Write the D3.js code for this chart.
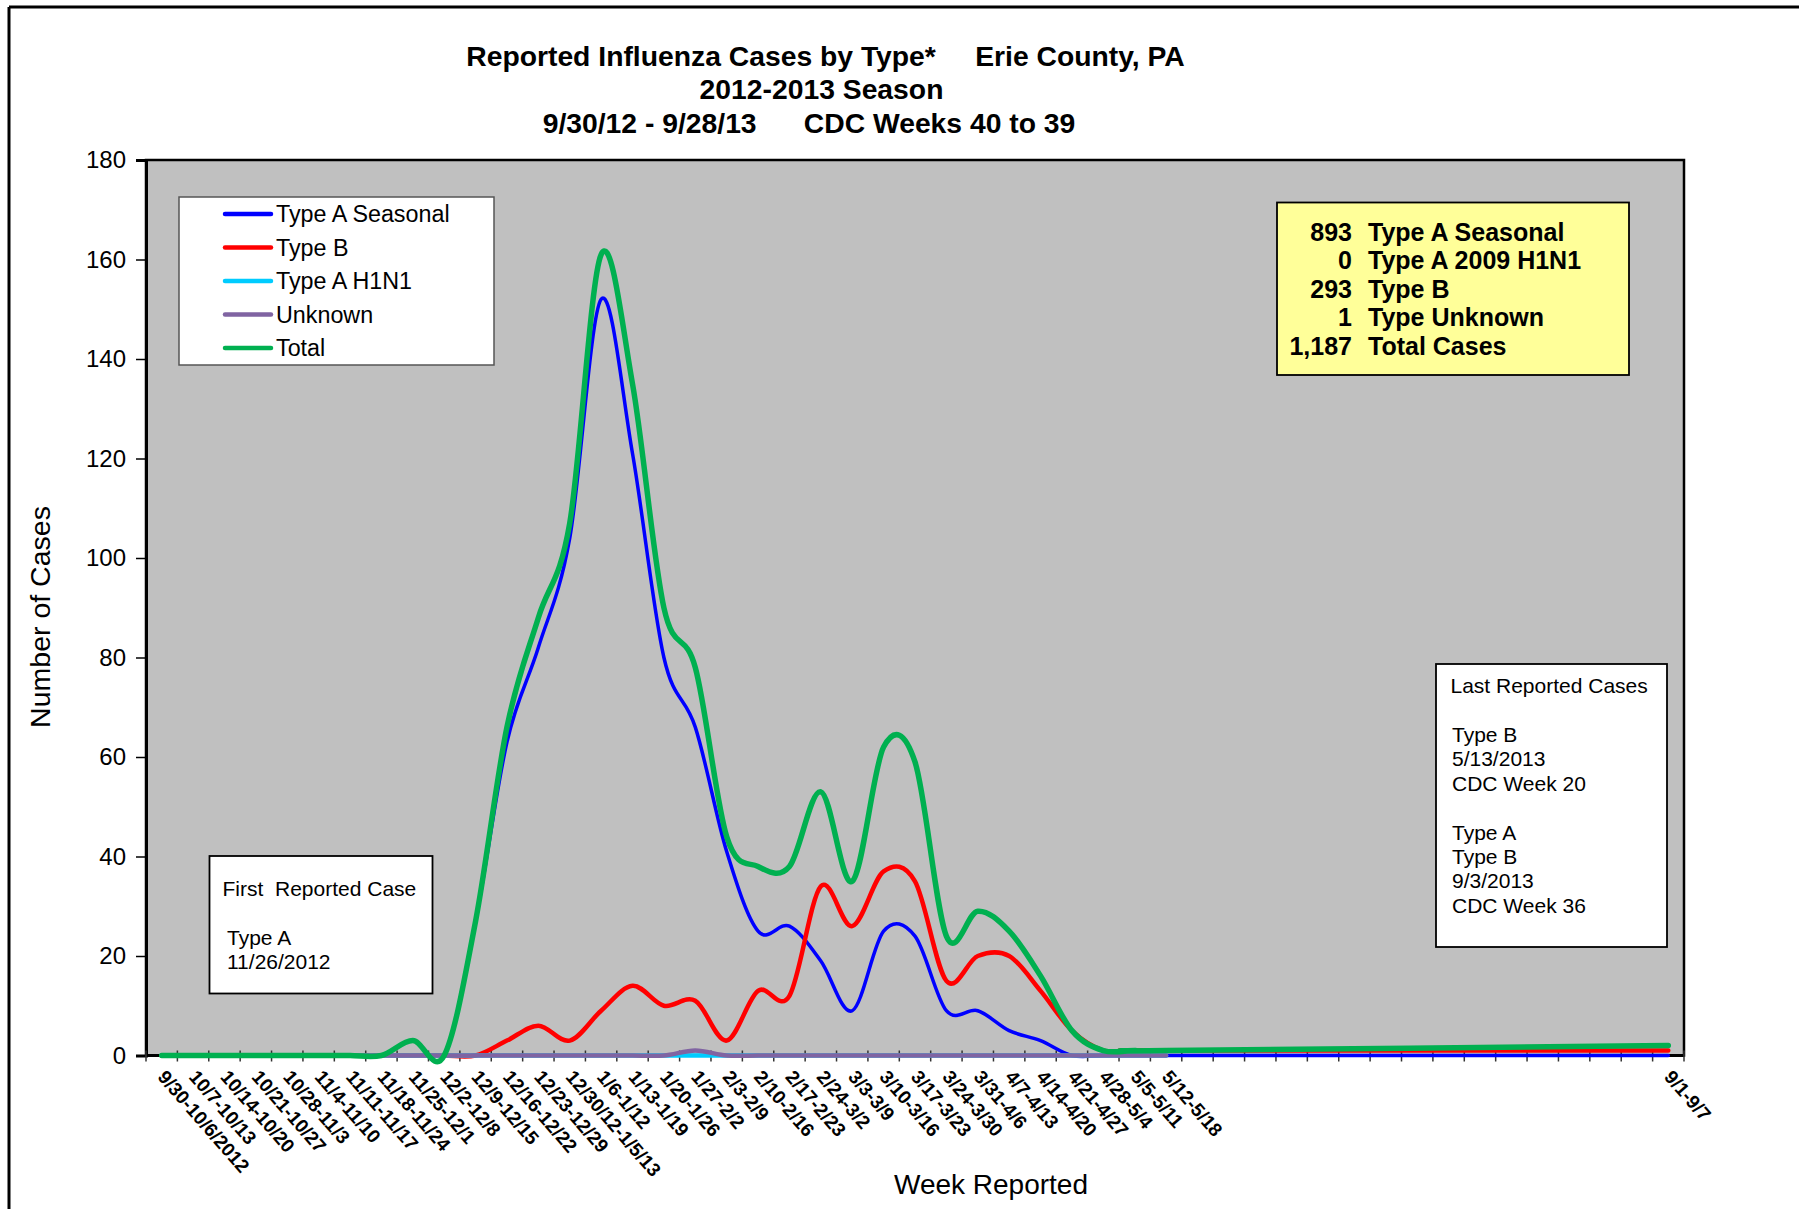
<!DOCTYPE html>
<html>
<head>
<meta charset="utf-8">
<script src="https://cdn.jsdelivr.net/npm/d3@7"></script>
<style>
  html, body { margin: 0; padding: 0; background: #fff; }
  svg { display: block; }
  text { font-family: "Liberation Sans", Arial, sans-serif; }
</style>
</head>
<body>
<svg id="chart" width="1799" height="1209"></svg>
<script>
const N = null;
const weeks = ["9/30-10/6/2012","10/7-10/13","10/14-10/20","10/21-10/27","10/28-11/3","11/4-11/10","11/11-11/17","11/18-11/24","11/25-12/1","12/2-12/8","12/9-12/15","12/16-12/22","12/23-12/29","12/30/12-1/5/13","1/6-1/12","1/13-1/19","1/20-1/26","1/27-2/2","2/3-2/9","2/10-2/16","2/17-2/23","2/24-3/2","3/3-3/9","3/10-3/16","3/17-3/23","3/24-3/30","3/31-4/6","4/7-4/13","4/14-4/20","4/21-4/27","4/28-5/4","5/5-5/11","5/12-5/18","","","","","","","","","","","","","","","","9/1-9/7"];

const typeASeasonal = [0,0,0,0,0,0,0,0,3,0,27,63,82,104,152,121,80,66,41,25,26,19,9,25,24,9,9,5,3,0,0,0,0, N,N,N,N,N,N,N,N,N,N,N,N,N,N,N, 0];
const typeB         = [0,0,0,0,0,0,0,0,0,0,0,3,6,3,9,14,10,11,3,13,12,34,26,37,35,15,20,20,13,5,1,1,1, N,N,N,N,N,N,N,N,N,N,N,N,N,N,N, 1];
const typeAH1N1     = [0,0,0,0,0,0,0,0,0,0,0,0,0,0,0,0,0,0,0,0,0,0,0,0,0,0,0,0,0,0,0,0,0, N,N,N,N,N,N,N,N,N,N,N,N,N,N,N, N];
const unknown       = [0,0,0,0,0,0,0,0,0,0,0,0,0,0,0,0,0,1,0,0,0,0,0,0,0,0,0,0,0,0,0,0,0, N,N,N,N,N,N,N,N,N,N,N,N,N,N,N, N];
const total         = [0,0,0,0,0,0,0,0,3,0,27,66,88,107,161,135,90,78,44,38,38,53,35,62,59,24,29,25,16,5,1,1,1, N,N,N,N,N,N,N,N,N,N,N,N,N,N,N, 2];

const seriesNames  = ["Type A Seasonal","Type B","Type A H1N1","Unknown","Total"];
const seriesColors = ["#0000FF","#FF0000","#00CCFF","#8064A2","#00B050"];
const seriesWidths = [3.5, 4.5, 4.5, 4.5, 5.5];
const seriesData   = [typeASeasonal, typeB, typeAH1N1, unknown, total];

const yTicks = [0,20,40,60,80,100,120,140,160,180];

const titleLines = ["Reported Influenza Cases by Type*     Erie County, PA","2012-2013 Season","9/30/12 - 9/28/13      CDC Weeks 40 to 39"];
const summaryNums  = ["893","0","293","1","1,187"];
const summaryTexts = ["Type A Seasonal","Type A 2009 H1N1","Type B","Type Unknown","Total Cases"];
const firstCaseLines = ["Type A","11/26/2012"];
const lastCaseLines  = ["Type B","5/13/2013","CDC Week 20","","Type A","Type B","9/3/2013","CDC Week 36"];

const svg = d3.select("#chart");

// outer frame
svg.append("line").attr("x1",9).attr("y1",7).attr("x2",1799).attr("y2",7).attr("stroke","#000").attr("stroke-width",3);
svg.append("line").attr("x1",9).attr("y1",7).attr("x2",9).attr("y2",1209).attr("stroke","#000").attr("stroke-width",3);

// title
const titleX = [825.5, 821.5, 809];
const titleY = [65.5, 99, 132.5];
titleLines.forEach((t,i)=>{
  svg.append("text").attr("x",titleX[i]).attr("y",titleY[i]).attr("text-anchor","middle")
    .attr("xml:space","preserve").style("white-space","pre")
    .attr("font-size",28.3).attr("font-weight","bold").text(t);
});

const px0 = 146, px1 = 1684, py0 = 160, py1 = 1055.5;
const x = d3.scaleBand().domain(d3.range(weeks.length)).range([px0, px1]).padding(0);
const cx = i => x(i) + x.bandwidth()/2;
const y = d3.scaleLinear().domain([0,180]).range([py1, py0]);

// plot area
svg.append("rect").attr("x",px0).attr("y",py0).attr("width",px1-px0).attr("height",py1-py0)
  .attr("fill","#C0C0C0").attr("stroke","#000").attr("stroke-width",2.5);

// y axis
const yAxis = d3.axisLeft(y).tickValues(yTicks).tickSize(10).tickPadding(10).tickFormat(d3.format("d"));
const gy = svg.append("g").attr("transform",`translate(${px0},0)`).call(yAxis);
gy.select(".domain").attr("stroke","#000").attr("stroke-width",3);
gy.selectAll(".tick line").attr("stroke","#000").attr("stroke-width",1.5);
gy.selectAll(".tick text").attr("font-size",24).attr("fill","#000").style("font-family","'Liberation Sans', Arial, sans-serif");

// x axis line
svg.append("line").attr("x1",px0).attr("x2",px1).attr("y1",py1).attr("y2",py1).attr("stroke","#000").attr("stroke-width",3);

// x axis ticks at band boundaries (crossing)
const boundaries = d3.range(weeks.length+1).map(i => i < weeks.length ? x(i) : px1);
svg.append("g").selectAll("line").data(boundaries).join("line")
  .attr("x1",d=>d).attr("x2",d=>d).attr("y1",py1-5).attr("y2",py1+6)
  .attr("stroke","#333").attr("stroke-width",1.5);

// lines
const lineGen = d3.line().x(d=>cx(d.i)).y(d=>y(d.v)).curve(d3.curveCardinal.tension(0));
seriesData.forEach((arr,k)=>{
  const pts = arr.map((v,i)=>({i,v})).filter(d=>d.v!==null);
  svg.append("path").attr("d",lineGen(pts)).attr("fill","none")
    .attr("stroke",seriesColors[k]).attr("stroke-width",seriesWidths[k])
    .attr("stroke-linejoin","round").attr("stroke-linecap","round");
});

// x tick labels
svg.append("g").selectAll("text").data(weeks.map((w,i)=>({w,i})).filter(d=>d.w!=="")).join("text")
  .attr("transform",d=>`translate(${cx(d.i)-5},${py1+22}) rotate(49)`)
  .attr("font-size",19).attr("font-weight","bold").text(d=>d.w);

// axis titles
svg.append("text").attr("transform","translate(50,617) rotate(-90)").attr("text-anchor","middle")
  .attr("font-size",28.5).text("Number of Cases");
svg.append("text").attr("x",991).attr("y",1194).attr("text-anchor","middle")
  .attr("font-size",28).text("Week Reported");

// legend
const lg = svg.append("g");
lg.append("rect").attr("x",179).attr("y",197).attr("width",315).attr("height",168)
  .attr("fill","#fff").attr("stroke","#555").attr("stroke-width",1.5);
const legY = [214, 247.5, 281, 314.5, 348];
seriesNames.forEach((n,k)=>{
  lg.append("line").attr("x1",225).attr("x2",271).attr("y1",legY[k]).attr("y2",legY[k])
    .attr("stroke",seriesColors[k]).attr("stroke-width",4.5).attr("stroke-linecap","round");
  lg.append("text").attr("x",276).attr("y",legY[k]).attr("dy","0.36em").attr("font-size",23.3).text(n);
});

// summary box
const sb = svg.append("g");
sb.append("rect").attr("x",1277).attr("y",202.5).attr("width",352).attr("height",172.5)
  .attr("fill","#FFFF99").attr("stroke","#000").attr("stroke-width",1.8);
summaryNums.forEach((n,k)=>{
  const yy = 241 + k*28.4;
  sb.append("text").attr("x",1352).attr("y",yy).attr("text-anchor","end").attr("font-size",25).attr("font-weight","bold").text(n);
  sb.append("text").attr("x",1368).attr("y",yy).attr("font-size",25).attr("font-weight","bold").text(summaryTexts[k]);
});

// first reported case box
const fb = svg.append("g");
fb.append("rect").attr("x",209.5).attr("y",856).attr("width",223).attr("height",137.5)
  .attr("fill","#fff").attr("stroke","#000").attr("stroke-width",1.8);
fb.append("text").attr("x",222.5).attr("y",896).attr("font-size",21).attr("xml:space","preserve").style("white-space","pre").text("First  Reported Case");
firstCaseLines.forEach((t,k)=>{
  fb.append("text").attr("x",227).attr("y",945 + k*24.4).attr("font-size",21).text(t);
});

// last reported cases box
const lb = svg.append("g");
lb.append("rect").attr("x",1436).attr("y",664).attr("width",231).attr("height",283)
  .attr("fill","#fff").attr("stroke","#000").attr("stroke-width",1.8);
lb.append("text").attr("x",1450.5).attr("y",692.5).attr("font-size",21).text("Last Reported Cases");
lastCaseLines.forEach((t,k)=>{
  if (t) lb.append("text").attr("x",1452).attr("y",742 + k*24.4).attr("font-size",21).text(t);
});
</script>
</body>
</html>
